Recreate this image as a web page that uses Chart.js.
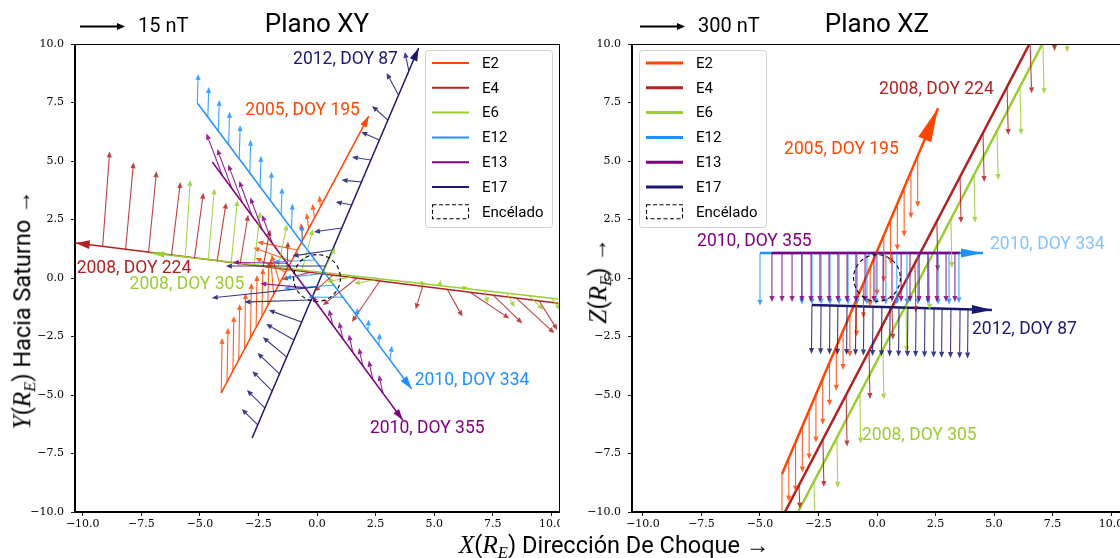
<!DOCTYPE html>
<html>
<head>
<meta charset="utf-8">
<script src="https://cdn.jsdelivr.net/npm/chart.js@4.4.1/dist/chart.umd.min.js"></script>
<style>
  html, body { margin: 0; padding: 0; background: #fff; width: 1120px; height: 558px; overflow: hidden; }
  .panel { position: absolute; top: 0; }
  #wrapXY { left: 0; width: 560px; height: 558px; }
  #wrapXZ { left: 560px; width: 570px; height: 558px; }
  .axt { position: absolute; font-family: Roboto, sans-serif; font-size: 23.5px; color: #000;
         white-space: nowrap; line-height: 1; }
  .axt .m { font-family: "Liberation Serif", serif; font-style: italic; font-size: 25.5px; }
  .axt sub { font-size: 65%; vertical-align: -0.3em; line-height: 0; }
</style>
</head>
<body>
<div class="panel" id="wrapXY"><canvas id="chartXY" width="560" height="558"></canvas></div>
<div class="panel" id="wrapXZ"><canvas id="chartXZ" width="570" height="558"></canvas></div>

<div class="axt" id="xlab" style="left:614px; top:545px; transform: translate(-50%,-50%);">
  <span class="m">X</span>(<span class="m">R<sub>E</sub></span>) Dirección De Choque →</div>
<div class="axt" id="ylabXY" style="left:22px; top:310px; transform: translate(-50%,-50%) rotate(-90deg);">
  <span class="m">Y</span>(<span class="m">R<sub>E</sub></span>) Hacia Saturno →</div>
<div class="axt" id="ylabXZ" style="left:598px; top:281px; transform: translate(-50%,-50%) rotate(-90deg);">
  <span class="m">Z</span>(<span class="m">R<sub>E</sub></span>) →</div>

<script>
// ---- flybys ----
const FLYBYS = ['E2', 'E4', 'E6', 'E12', 'E13', 'E17'];
const FLYBY_DATES = ['2005, DOY 195', '2008, DOY 224', '2008, DOY 305', '2010, DOY 334', '2010, DOY 355', '2012, DOY 87'];
const TICK_VALUES = [-10, -7.5, -5, -2.5, 0, 2.5, 5, 7.5, 10];
const ENCELADUS_RADIUS = 1.0;

// ---- plano XY: trayectorias [inicio, fin] ----
const trackXY_E2  = [[-4.09, -4.91], [2.21, 6.92]];
const trackXY_E4  = [[10.30, -1.08], [-10.30, 1.50]];
const trackXY_E6  = [[10.30, -0.90], [-7.11, 1.07]];
const trackXY_E12 = [[-5.11, 7.48], [4.04, -4.74]];
const trackXY_E13 = [[-4.47, 4.96], [3.66, -6.07]];
const trackXY_E17 = [[-2.77, -6.84], [4.34, 9.83]];

// ---- plano XY: campo magnetico [x, y, Bx, By] (escala 15 nT) ----
const fieldXY_E2 = [
  [-4.09, -4.91, 0.04, 2.35], [-3.84, -4.44, 0.04, 2.31], [-3.59, -3.97, 0.04, 2.35],
  [-3.34, -3.50, 0.04, 2.39], [-3.09, -3.03, 0.04, 2.39], [-2.84, -2.56, 0.04, 2.35],
  [-2.60, -2.09, 0.04, 2.22], [-2.35, -1.62, 0.04, 2.05], [-2.10, -1.15, 0.04, 1.84],
  [-1.85, -0.68, -0.13, 1.50], [-1.60, -0.21, -0.34, 1.20], [-1.35, 0.26, -1.28, 0.60],
  [-1.10, 0.73, -1.62, 0.56], [-0.85, 1.20, -1.70, 0.34], [-0.60, 1.67, -0.09, 0.68],
  [-0.36, 2.14, -0.09, 0.64], [-0.11, 2.61, -0.09, 0.56], [0.14, 3.08, -0.04, 0.43]
];
const fieldXY_E4 = [
  [-9.15, 1.35, 0.30, 4.06], [-8.17, 1.23, 0.34, 3.72], [-7.19, 1.10, 0.34, 3.46],
  [-6.21, 0.98, 0.38, 3.12], [-5.23, 0.86, 0.38, 2.78], [-4.26, 0.74, 0.38, 2.48],
  [-3.28, 0.61, 0.34, 2.09], [-2.30, 0.49, 0.30, 1.58], [-1.28, 0.36, 0.04, 1.20],
  [-0.30, 0.24, -1.20, -0.30], [0.68, 0.12, -0.80, -0.70], [1.70, -0.01, -1.45, -1.15],
  [2.68, -0.13, -1.19, -1.75], [4.51, -0.36, -0.30, -0.98], [5.57, -0.50, 0.64, -1.15],
  [6.55, -0.62, 1.66, -1.11], [7.53, -0.74, 1.23, -1.20], [8.51, -0.86, 1.62, -1.50],
  [9.49, -0.98, 0.77, -1.24]
];
const fieldXY_E6 = [
  [-5.62, 0.90, 0.21, 3.29], [-4.64, 0.79, 0.26, 3.03], [-3.66, 0.68, 0.26, 2.65],
  [-2.68, 0.57, 0.26, 2.26], [-1.66, 0.45, 0.38, 1.84], [-0.64, 0.34, 0.47, 1.75],
  [0.26, 0.24, 0.51, 1.07], [1.62, 0.08, -1.20, -0.25], [2.68, -0.04, -1.10, -0.20],
  [4.38, -0.23, 0.30, 0.00], [5.23, -0.33, 0.05, 0.25], [6.21, -0.44, 0.25, 0.05],
  [7.15, -0.54, 0.15, -0.55], [8.09, -0.65, 0.35, -0.60], [9.06, -0.76, 0.60, -0.60],
  [10.00, -0.86, 0.40, -0.50]
];
const fieldXY_E12 = [
  [-5.11, 7.48, 0.04, 1.24], [-4.66, 6.88, 0.04, 1.28], [-4.21, 6.29, 0.04, 1.32],
  [-3.77, 5.69, 0.04, 1.41], [-3.32, 5.09, 0.04, 1.45], [-2.87, 4.50, 0.04, 1.41],
  [-2.43, 3.90, 0.04, 1.32], [-1.98, 3.30, 0.04, 1.24], [-1.53, 2.71, 0.04, 1.15],
  [-1.09, 2.11, 0.04, 1.07], [-0.64, 1.51, 0.00, 0.77], [-0.09, 0.77, -1.79, -0.09],
  [0.34, 0.21, -1.70, -0.21], [0.72, -0.31, -2.13, -0.13], [1.11, -0.82, -1.49, 0.00],
  [1.70, -1.62, 0.04, 0.34], [2.17, -2.24, 0.04, 0.47], [2.64, -2.87, 0.04, 0.51],
  [3.11, -3.49, 0.09, 0.60]
];
const fieldXY_E13 = [
  [-4.04, 4.38, -0.68, 1.79], [-3.62, 3.80, -0.64, 1.71], [-3.19, 3.23, -0.60, 1.62],
  [-2.77, 2.65, -0.55, 1.50], [-2.34, 2.07, -0.51, 1.37], [-1.91, 1.49, -0.43, 1.20],
  [-1.28, 0.63, -2.30, 0.04], [-0.51, -0.41, -1.91, 0.17], [0.13, -1.28, -0.34, 0.51],
  [0.68, -2.03, -0.17, 0.68], [1.11, -2.61, -0.17, 0.73], [1.53, -3.18, -0.17, 0.77],
  [1.96, -3.76, -0.17, 0.77], [2.38, -4.34, -0.17, 0.81], [2.81, -4.91, -0.17, 0.77]
];
const fieldXY_E17 = [
  [3.92, 8.85, -0.17, 0.81], [3.48, 7.82, -0.51, 0.94], [3.03, 6.75, -0.68, 0.60],
  [2.66, 5.90, -0.77, 0.34], [2.30, 5.04, -0.81, 0.13], [1.90, 4.10, -0.85, 0.09],
  [1.48, 3.12, -0.68, 0.13], [1.06, 2.14, -1.19, -0.17], [0.66, 1.20, -1.70, -0.26],
  [0.37, 0.51, -4.26, 0.00], [-0.02, -0.38, -4.47, -0.47], [-0.25, -0.94, -2.85, -0.09],
  [-0.66, -1.88, -1.40, 0.51], [-0.98, -2.65, -1.19, 0.68], [-1.29, -3.38, -1.02, 0.85],
  [-1.60, -4.10, -0.94, 0.90], [-1.91, -4.83, -0.85, 0.85], [-2.22, -5.56, -0.77, 0.77],
  [-2.53, -6.28, -0.68, 0.68]
];

// ---- plano XZ: trayectorias ----
const trackXZ_E2  = [[-4.06, -8.38], [2.61, 7.26]];
const trackXZ_E4  = [[-4.09, -10.30], [6.67, 10.30]];
const trackXZ_E6  = [[-3.53, -10.30], [7.22, 10.30]];
const trackXZ_E12 = [[-5.00, 1.07], [4.53, 1.07]];
const trackXZ_E13 = [[-4.49, 1.07], [3.55, 1.07]];
const trackXZ_E17 = [[-2.78, -1.15], [4.91, -1.37]];

// ---- plano XZ: campo magnetico [x, z, Bx, Bz] (escala 300 nT) ----
const fieldXZ_E2 = [
  [-4.06, -8.38, 0, -2.00], [-3.77, -7.70, 0, -1.85], [-3.48, -7.02, 0, -2.10],
  [-3.19, -6.34, 0, -1.97], [-2.90, -5.66, 0, -2.10], [-2.61, -4.98, 0, -2.05],
  [-2.32, -4.30, 0, -1.97], [-2.03, -3.62, 0, -1.84], [-1.74, -2.94, 0, -1.88],
  [-1.45, -2.26, 0, -1.67], [-1.16, -1.58, 0, -1.80], [-0.87, -0.90, 0, -1.60],
  [-0.58, -0.22, 0, -1.50], [-0.29, 0.46, 0, -1.70], [0.00, 1.14, 0, -1.90],
  [0.29, 1.82, 0, -2.00], [0.58, 2.50, 0, -1.90], [0.87, 3.18, 0, -2.00],
  [1.16, 3.86, 0, -2.10], [1.45, 4.54, 0, -2.00], [1.74, 5.22, 0, -2.20]
];
const fieldXZ_E4 = [
  [-3.33, -8.85, 0.03, -1.00], [-2.31, -6.88, 0.04, -2.05], [-1.32, -5.00, 0.04, -2.20],
  [-0.34, -3.12, 0.04, -2.05], [0.64, -1.24, 0.04, -1.40], [1.62, 0.64, 0.04, -2.10],
  [2.56, 2.44, 0.04, -2.15], [3.55, 4.32, 0.04, -1.97], [4.53, 6.20, 0.05, -2.10],
  [5.56, 8.16, 0.05, -2.05], [6.54, 10.04, 0.07, -2.15], [7.52, 11.90, 0.07, -2.20]
];
const fieldXZ_E6 = [
  [-2.69, -8.69, 0.03, -2.10], [-1.71, -6.81, 0.03, -2.15], [-0.73, -4.92, 0.03, -2.15],
  [0.26, -3.04, 0.03, -2.15], [1.24, -1.16, 0.03, -2.00], [2.22, 0.73, 0.03, -2.10],
  [3.16, 2.53, 0.04, -2.10], [4.15, 4.41, 0.04, -2.05], [5.13, 6.29, 0.05, -2.10],
  [6.11, 8.17, 0.05, -2.05], [7.09, 10.06, 0.05, -2.20], [8.08, 11.90, 0.05, -2.25]
];
const fieldXZ_E12 = [
  [-5.00, 1.07, 0, -2.26], [-3.21, 1.07, 0, -2.20], [-2.78, 1.07, 0, -2.20],
  [-2.39, 1.07, 0, -2.20], [-2.01, 1.07, 0, -2.20], [-1.62, 1.07, 0, -2.20],
  [-1.24, 1.07, 0, -2.20], [-0.85, 1.07, 0, -2.20], [-0.43, 1.07, 0, -2.20],
  [-0.04, 1.07, 0, -2.20], [0.38, 1.07, 0, -2.20], [0.85, 1.07, 0, -2.20],
  [1.28, 1.07, 0, -2.20], [1.75, 1.07, 0, -2.20], [2.18, 1.07, 0, -2.20],
  [2.61, 1.07, 0, -2.20], [3.08, 1.07, 0, -2.20], [3.50, 1.07, 0, -2.15]
];
const fieldXZ_E13 = [
  [-4.49, 1.07, 0, -2.10], [-4.06, 1.07, 0, -2.10], [-3.63, 1.07, 0, -2.10],
  [-3.21, 1.07, 0, -2.10], [-2.82, 1.07, 0, -2.10], [-2.44, 1.07, 0, -2.10],
  [-2.05, 1.07, 0, -2.10], [-1.67, 1.07, 0, -2.10], [-1.28, 1.07, 0, -2.10],
  [-0.90, 1.07, 0, -2.10], [-0.51, 1.07, 0, -2.10], [-0.13, 1.07, 0, -2.10],
  [0.26, 1.07, 0, -2.10], [0.64, 1.07, 0, -2.10], [1.03, 1.07, 0, -2.10],
  [1.41, 1.07, 0, -2.10], [1.80, 1.07, 0, -2.10], [2.18, 1.07, 0, -2.10],
  [2.56, 1.07, 0, -2.10], [2.95, 1.07, 0, -2.10], [3.33, 1.07, 0, -2.10]
];
const fieldXZ_E17 = [
  [-2.78, -1.15, -0.02, -2.10], [-2.39, -1.16, -0.02, -2.10], [-2.01, -1.17, -0.02, -2.10],
  [-1.67, -1.18, -0.02, -2.10], [-1.28, -1.19, -0.02, -2.10], [-0.90, -1.20, -0.02, -2.10],
  [-0.56, -1.21, -0.02, -2.10], [-0.17, -1.23, -0.02, -2.10], [0.21, -1.24, -0.02, -2.10],
  [0.56, -1.25, -0.02, -2.10], [0.94, -1.26, -0.02, -2.10], [1.32, -1.27, -0.02, -2.10],
  [1.67, -1.28, -0.02, -2.10], [2.05, -1.29, -0.02, -2.10], [2.44, -1.30, -0.02, -2.10],
  [2.78, -1.31, -0.02, -2.10], [3.16, -1.32, -0.02, -2.10], [3.55, -1.33, -0.02, -2.10],
  [3.89, -1.34, -0.02, -2.10]
];

// ---- estilos ----
const COLORS = { E2: '#FF4500', E4: '#B22222', E6: '#9ACD32', E12: '#1E90FF', E13: '#800080', E17: '#191970' };
const SANS = 'Roboto, "DejaVu Sans", sans-serif';

// posicion de las etiquetas de cada sobrevuelo (coordenadas de datos, borde izquierdo del texto)
const LABEL_POS_XY = { E2: [-3.06, 7.14], E4: [-10.26, 0.38], E6: [-8.00, -0.30], E12: [4.17, -4.40], E13: [2.26, -6.45], E17: [-1.02, 9.32] };
const LABEL_POS_XZ = { E2: [-3.97, 5.47], E4: [0.09, 8.03], E6: [-0.64, -6.75], E12: [4.83, 1.41], E13: [-7.69, 1.54], E17: [4.06, -2.22] };

const PANEL_XY = {
  title: 'Plano XY', keyText: '15 nT', xLim: 10.33, padLeft: 30, padRight: 1,
  trackWidth: 1.5, legendLeft: 425,
  tracks: { E2: trackXY_E2, E4: trackXY_E4, E6: trackXY_E6, E12: trackXY_E12, E13: trackXY_E13, E17: trackXY_E17 },
  fields: { E2: fieldXY_E2, E4: fieldXY_E4, E6: fieldXY_E6, E12: fieldXY_E12, E13: fieldXY_E13, E17: fieldXY_E17 },
  heads: { E2: [11, 7], E4: [14, 9], E6: [14, 6], E12: [13, 8], E13: [11, 7], E17: [13, 8] },
  labelPos: LABEL_POS_XY, labelColor: {}
};
const PANEL_XZ = {
  title: 'Plano XZ', keyText: '300 nT', xLim: 10.47, padLeft: 27, padRight: 8,
  trackWidth: 2.5, legendLeft: 79,
  tracks: { E2: trackXZ_E2, E4: trackXZ_E4, E6: trackXZ_E6, E12: trackXZ_E12, E13: trackXZ_E13, E17: trackXZ_E17 },
  fields: { E2: fieldXZ_E2, E4: fieldXZ_E4, E6: fieldXZ_E6, E12: fieldXZ_E12, E13: fieldXZ_E13, E17: fieldXZ_E17 },
  heads: { E2: [34, 14], E4: [0, 0], E6: [0, 0], E12: [22, 9], E13: [0, 0], E17: [20, 9] },
  labelPos: LABEL_POS_XZ, labelColor: { E12: 'rgba(30,144,255,0.55)' }
};

function fmtTick(v) {
  return (v < 0 ? '\u2212' : '') + Math.abs(v).toFixed(1);
}

function drawArrow(ctx, x0, y0, x1, y1, headLen, headHalf, lw) {
  const dx = x1 - x0, dy = y1 - y0, len = Math.hypot(dx, dy);
  if (len < 0.5) return;
  const ux = dx / len, uy = dy / len;
  const hl = Math.min(headLen, len);
  const bx = x1 - ux * hl, by = y1 - uy * hl;
  if (len > hl && lw > 0) {
    ctx.lineWidth = lw;
    ctx.beginPath(); ctx.moveTo(x0, y0); ctx.lineTo(bx, by); ctx.stroke();
  }
  ctx.beginPath();
  ctx.moveTo(x1, y1);
  ctx.lineTo(bx - uy * headHalf, by + ux * headHalf);
  ctx.lineTo(bx + uy * headHalf, by - ux * headHalf);
  ctx.closePath();
  ctx.fill();
}

// dibuja flechas del campo, puntas de trayectoria, Encelado, etiquetas, leyenda y titulo
function makeQuiverPlugin(panel) {
  return {
    id: 'quiver',
    afterDatasetsDraw(chart) {
      const { ctx, chartArea: ca, scales: { x, y } } = chart;
      const px = v => x.getPixelForValue(v);
      const py = v => y.getPixelForValue(v);

      ctx.save();
      ctx.beginPath(); ctx.rect(ca.left, ca.top, ca.right - ca.left, ca.bottom - ca.top); ctx.clip();
      ctx.lineCap = 'butt';

      FLYBYS.forEach(f => {
        ctx.globalAlpha = 0.85;
        ctx.strokeStyle = COLORS[f]; ctx.fillStyle = COLORS[f];
        panel.fields[f].forEach(([a, b, u, v]) => {
          drawArrow(ctx, px(a), py(b), px(a + u), py(b + v), 6, 2.6, 1.1);
        });
        ctx.globalAlpha = 1;
        const [hl, hw] = panel.heads[f];
        if (hl > 0) {
          // punta de la trayectoria: triangulo alineado con el ultimo tramo
          const t = panel.tracks[f];
          const p0 = t[t.length - 2], p1 = t[t.length - 1];
          const x0 = px(p0[0]), y0 = py(p0[1]), x1 = px(p1[0]), y1 = py(p1[1]);
          const len = Math.hypot(x1 - x0, y1 - y0);
          const back = hl + 2;
          const sx = x1 - (x1 - x0) / len * back, sy = y1 - (y1 - y0) / len * back;
          drawArrow(ctx, sx, sy, x1, y1, hl, hw / 2, 0);
        }
      });

      // Encelado
      const cx = px(0), cy = py(0);
      const r = px(ENCELADUS_RADIUS) - px(0);
      ctx.setLineDash([4, 3]);
      ctx.strokeStyle = '#000'; ctx.lineWidth = 1.1;
      ctx.beginPath(); ctx.arc(cx, cy, r, 0, Math.PI * 2); ctx.stroke();
      ctx.setLineDash([]);
      ctx.restore();

      // etiquetas de sobrevuelos
      ctx.save();
      ctx.font = '17.5px ' + SANS;
      ctx.textBaseline = 'middle'; ctx.textAlign = 'left';
      FLYBYS.forEach((f, i) => {
        const pos = panel.labelPos[f];
        ctx.fillStyle = panel.labelColor[f] || COLORS[f];
        ctx.fillText(FLYBY_DATES[i], px(pos[0]), py(pos[1]));
      });
      ctx.restore();

      // marco completo
      ctx.save();
      ctx.strokeStyle = '#000'; ctx.lineWidth = 1;
      ctx.strokeRect(Math.round(ca.left) - 0.5, Math.round(ca.top) + 0.5, Math.round(ca.right - ca.left) + 1, Math.round(ca.bottom - ca.top) - 1);
      ctx.restore();

      // leyenda
      ctx.save();
      const lx = panel.legendLeft, ly = 50, lw = 127, lh = 177;
      ctx.globalAlpha = 0.8;
      ctx.fillStyle = '#fff';
      ctx.beginPath(); ctx.roundRect(lx + 0.5, ly + 0.5, lw, lh, 3); ctx.fill();
      ctx.globalAlpha = 1;
      ctx.strokeStyle = '#d0d0d0'; ctx.lineWidth = 1; ctx.stroke();
      ctx.font = '15px ' + SANS; ctx.textBaseline = 'middle'; ctx.fillStyle = '#000';
      const entries = FLYBYS.concat(['Encélado']);
      entries.forEach((name, i) => {
        const ey = 63 + i * 24.8;
        if (i < FLYBYS.length) {
          ctx.strokeStyle = COLORS[name]; ctx.lineWidth = panel.trackWidth + 0.5;
          ctx.beginPath(); ctx.moveTo(lx + 7, ey); ctx.lineTo(lx + 44, ey); ctx.stroke();
        } else {
          ctx.strokeStyle = '#000'; ctx.lineWidth = 1.1; ctx.setLineDash([4, 2.5]);
          ctx.strokeRect(lx + 7.5, ey - 7, 36, 14);
          ctx.setLineDash([]);
        }
        ctx.fillText(name, lx + 57, ey + 1);
      });
      ctx.restore();

      // titulo y flecha de escala
      ctx.save();
      ctx.fillStyle = '#000';
      ctx.font = '26px ' + SANS; ctx.textAlign = 'center'; ctx.textBaseline = 'middle';
      ctx.fillText(panel.title, (ca.left + ca.right) / 2, 25);
      ctx.strokeStyle = '#000';
      drawArrow(ctx, 80, 26.5, 125, 26.5, 8, 3.5, 1.8);
      ctx.font = '20px ' + SANS; ctx.textAlign = 'left';
      ctx.fillText(panel.keyText, 138, 27);
      ctx.restore();
    }
  };
}

function makePanel(canvasId, panel) {
  const datasets = FLYBYS.map((f, i) => ({
    label: f,
    data: panel.tracks[f].map(p => ({ x: p[0], y: p[1] })),
    showLine: true,
    borderColor: COLORS[f],
    borderWidth: panel.trackWidth,
    pointRadius: 0,
    fill: false,
    order: FLYBYS.length - i
  }));
  const axisCommon = {
    type: 'linear',
    afterBuildTicks: s => { s.ticks = TICK_VALUES.map(v => ({ value: v })); },
    grid: { display: true, drawOnChartArea: false, drawTicks: true, tickLength: 4, color: '#000', lineWidth: 0.9 },
    border: { display: true, color: '#000', width: 1 },
    ticks: {
      autoSkip: false, maxRotation: 0, color: '#000',
      font: { family: '"DejaVu Serif", serif', size: 11 },
      callback: v => fmtTick(v)
    }
  };
  return new Chart(document.getElementById(canvasId), {
    type: 'scatter',
    data: { datasets },
    options: {
      responsive: false,
      animation: false,
      events: [],
      layout: { padding: { left: panel.padLeft, right: panel.padRight, top: 44, bottom: 16 } },
      plugins: { legend: { display: false }, tooltip: { enabled: false }, title: { display: false } },
      scales: {
        x: Object.assign({}, axisCommon, {
          min: -panel.xLim, max: panel.xLim,
          afterFit: s => { s.height = 30; s.paddingLeft = 0; s.paddingRight = 0; },
          ticks: Object.assign({}, axisCommon.ticks, { padding: 2 })
        }),
        y: Object.assign({}, axisCommon, {
          min: -10, max: 10,
          afterFit: s => { s.width = 45; s.paddingTop = 0; s.paddingBottom = 0; },
          ticks: Object.assign({}, axisCommon.ticks, { padding: 7 })
        })
      }
    },
    plugins: [makeQuiverPlugin(panel)]
  });
}

makePanel('chartXY', PANEL_XY);
makePanel('chartXZ', PANEL_XZ);
</script>
</body>
</html>
